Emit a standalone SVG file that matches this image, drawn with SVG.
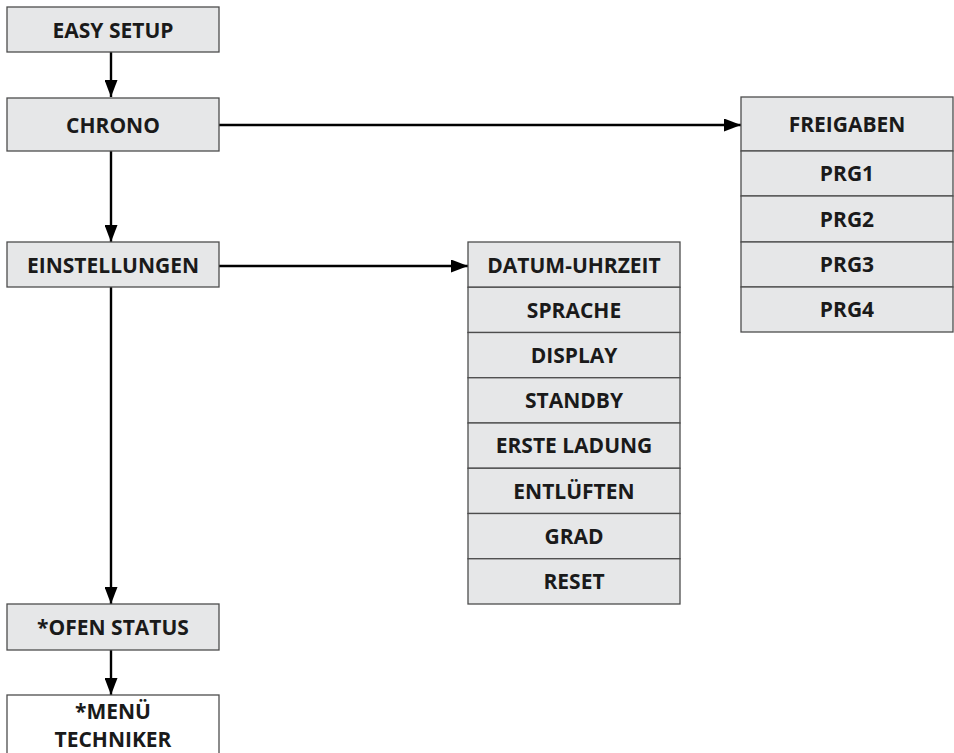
<svg xmlns="http://www.w3.org/2000/svg" width="954" height="753" viewBox="0 0 954 753">
<defs>
<marker id="ah" viewBox="0 0 17 13" markerWidth="17" markerHeight="13" refX="17" refY="6.5" orient="auto" markerUnits="userSpaceOnUse">
<path d="M0,0 L17,6.5 L0,13 Z" fill="#000"/>
</marker>
<style>
.b{fill:#e6e7e8;stroke:#4d4d4d;stroke-width:1.3}
.w{fill:#ffffff;stroke:#4d4d4d;stroke-width:1.3}
.t{font-family:"Open Sans","Noto Sans",sans-serif;font-weight:700;font-size:21px;fill:#1a1a1a;text-anchor:middle}
.c{stroke:#000;stroke-width:2.4;fill:none;marker-end:url(#ah)}
</style>
</defs>
<rect width="954" height="753" fill="#fff"/>
<g id="connectors">
<path class="c" d="M111,52 V97"/>
<path class="c" d="M111,151 V242"/>
<path class="c" d="M111,287 V604"/>
<path class="c" d="M111,650 V695"/>
<path class="c" d="M219,125 H741"/>
<path class="c" d="M219,266 H468"/>
</g>
<g id="easy-setup"><rect class="b" x="7" y="7" width="212" height="45"/><text class="t" x="113" y="37.5">EASY SETUP</text></g>
<g id="chrono"><rect class="b" x="7" y="98" width="212" height="53"/><text class="t" x="113" y="132.5">CHRONO</text></g>
<g id="einstellungen"><rect class="b" x="7" y="242" width="212" height="45"/><text class="t" x="113" y="272.5">EINSTELLUNGEN</text></g>
<g id="ofen-status"><rect class="b" x="7" y="604" width="212" height="46"/><text class="t" x="113" y="634.5">*OFEN STATUS</text></g>
<g id="menu-techniker"><rect class="w" x="7" y="695" width="212" height="70"/><text class="t" x="113" y="719">*MENÜ</text><text class="t" x="113" y="747">TECHNIKER</text></g>
<g id="einstellungen-menu">
<rect class="b" x="468" y="242" width="212" height="45.25"/><text class="t" x="574" y="272.5">DATUM-UHRZEIT</text>
<rect class="b" x="468" y="287.25" width="212" height="45.25"/><text class="t" x="574" y="317.5">SPRACHE</text>
<rect class="b" x="468" y="332.5" width="212" height="45.25"/><text class="t" x="574" y="362.5">DISPLAY</text>
<rect class="b" x="468" y="377.75" width="212" height="45.25"/><text class="t" x="574" y="408">STANDBY</text>
<rect class="b" x="468" y="423" width="212" height="45.25"/><text class="t" x="574" y="453">ERSTE LADUNG</text>
<rect class="b" x="468" y="468.25" width="212" height="45.25"/><text class="t" x="574" y="498.5">ENTLÜFTEN</text>
<rect class="b" x="468" y="513.5" width="212" height="45.25"/><text class="t" x="574" y="543.5">GRAD</text>
<rect class="b" x="468" y="558.75" width="212" height="45.25"/><text class="t" x="574" y="589">RESET</text>
</g>
<g id="chrono-menu">
<rect class="b" x="741" y="97" width="212" height="54"/><text class="t" x="847" y="131.5">FREIGABEN</text>
<rect class="b" x="741" y="151" width="212" height="45"/><text class="t" x="847" y="181">PRG1</text>
<rect class="b" x="741" y="196" width="212" height="46"/><text class="t" x="847" y="226.5">PRG2</text>
<rect class="b" x="741" y="242" width="212" height="45"/><text class="t" x="847" y="272">PRG3</text>
<rect class="b" x="741" y="287" width="212" height="45"/><text class="t" x="847" y="317">PRG4</text>
</g>
</svg>
